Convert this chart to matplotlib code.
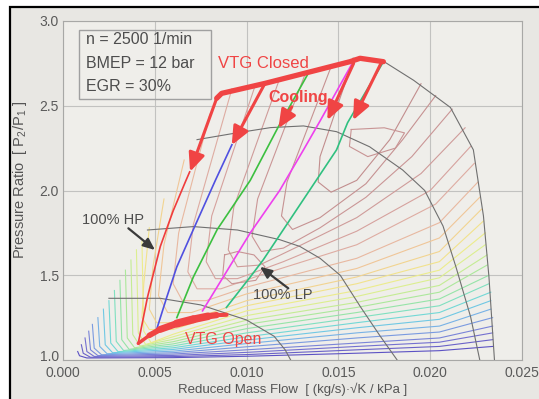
import matplotlib
matplotlib.use('Agg')
import matplotlib.pyplot as plt
import matplotlib.transforms as mtransforms
from matplotlib.patches import Rectangle
from matplotlib.collections import LineCollection
import numpy as np

plt.rcParams['font.family'] = ['Liberation Sans', 'DejaVu Sans']

# ---------------- data ----------------
x_ticks = [0.000, 0.005, 0.010, 0.015, 0.020, 0.025]
x_tick_labels = ['0.000', '0.005', '0.010', '0.015', '0.020', '0.025']
y_ticks = [1.0, 1.5, 2.0, 2.5, 3.0]
y_tick_labels = ['1.0', '1.5', '2.0', '2.5', '3.0']

# efficiency contours (outer -> inner)
contour_x = [
    [0.0008, 0.0009, 0.0013, 0.006, 0.010, 0.016, 0.0205, 0.0234],
    [0.0010, 0.0011, 0.0015, 0.006, 0.010, 0.016, 0.0205, 0.0234],
    [0.0012, 0.0013, 0.0017, 0.006, 0.010, 0.016, 0.0205, 0.0234],
    [0.0014, 0.0015, 0.0019, 0.006, 0.010, 0.016, 0.0205, 0.0234],
    [0.0016, 0.0017, 0.0021, 0.006, 0.010, 0.016, 0.0205, 0.0234],
    [0.0019, 0.0020, 0.0024, 0.006, 0.010, 0.016, 0.0205, 0.0233],
    [0.0022, 0.0023, 0.0027, 0.006, 0.010, 0.016, 0.0205, 0.0233],
    [0.0025, 0.0026, 0.0030, 0.006, 0.010, 0.016, 0.0205, 0.0233],
    [0.0028, 0.0029, 0.0033, 0.006, 0.010, 0.016, 0.0205, 0.0232],
    [0.0031, 0.0032, 0.0036, 0.006, 0.010, 0.016, 0.0205, 0.0232],
    [0.0034, 0.0035, 0.0039, 0.006, 0.010, 0.016, 0.0205, 0.0231],
    [0.0037, 0.0038, 0.0042, 0.006, 0.010, 0.016, 0.0205, 0.0231],
    [0.0040, 0.0041, 0.0045, 0.006, 0.010, 0.016, 0.0205, 0.0230],
    [0.0043, 0.0044, 0.0048, 0.006, 0.010, 0.016, 0.0205, 0.0230],
    [0.0047, 0.0044, 0.0043, 0.0047, 0.006, 0.010, 0.016, 0.0205, 0.0229],
    [0.0055, 0.0049, 0.0047, 0.0051, 0.0065, 0.010, 0.016, 0.0205, 0.0228],
    [0.0066, 0.0055, 0.0052, 0.0057, 0.0070, 0.010, 0.016, 0.0205, 0.0227],
    [0.0080, 0.0063, 0.0060, 0.0065, 0.0078, 0.010, 0.016, 0.0205, 0.0226],
    [0.0092, 0.0071, 0.0068, 0.0073, 0.0086, 0.011, 0.016, 0.0203, 0.0224],
    [0.0105, 0.0081, 0.0078, 0.0083, 0.0095, 0.012, 0.016, 0.0200, 0.0222],
    [0.0118, 0.0093, 0.0090, 0.0095, 0.0107, 0.013, 0.016, 0.0195, 0.0219],
    [0.0132, 0.0106, 0.0103, 0.0108, 0.0120, 0.014, 0.0165, 0.0190, 0.0212],
    [0.0146, 0.0122, 0.0119, 0.0125, 0.0140, 0.0165, 0.0185, 0.0203],
    [0.0158, 0.0140, 0.0139, 0.0146, 0.0160, 0.0178, 0.0195],
    [0.0088, 0.0087, 0.0092, 0.0105, 0.0110, 0.0104, 0.0095, 0.0088],
    [0.0157, 0.0175, 0.0186, 0.0181, 0.0166, 0.0156, 0.0157],
]
contour_y = [
    [1.05, 1.025, 1.012, 1.014, 1.022, 1.040, 1.055, 1.08],
    [1.09, 1.04, 1.016, 1.020, 1.032, 1.060, 1.080, 1.12],
    [1.13, 1.05, 1.021, 1.027, 1.045, 1.080, 1.105, 1.16],
    [1.17, 1.06, 1.026, 1.035, 1.060, 1.100, 1.130, 1.20],
    [1.21, 1.07, 1.031, 1.043, 1.078, 1.130, 1.165, 1.25],
    [1.25, 1.08, 1.037, 1.052, 1.097, 1.160, 1.200, 1.30],
    [1.30, 1.09, 1.043, 1.062, 1.117, 1.190, 1.240, 1.35],
    [1.35, 1.10, 1.049, 1.072, 1.137, 1.220, 1.280, 1.40],
    [1.41, 1.11, 1.056, 1.083, 1.160, 1.250, 1.320, 1.45],
    [1.47, 1.12, 1.063, 1.095, 1.185, 1.280, 1.360, 1.50],
    [1.53, 1.13, 1.072, 1.108, 1.210, 1.310, 1.400, 1.56],
    [1.59, 1.15, 1.082, 1.122, 1.235, 1.340, 1.440, 1.62],
    [1.65, 1.16, 1.092, 1.137, 1.262, 1.375, 1.485, 1.68],
    [1.70, 1.17, 1.102, 1.152, 1.290, 1.410, 1.530, 1.75],
    [1.78, 1.45, 1.25, 1.18, 1.18, 1.32, 1.45, 1.58, 1.82],
    [1.95, 1.55, 1.30, 1.22, 1.22, 1.35, 1.49, 1.64, 1.89],
    [2.18, 1.68, 1.38, 1.28, 1.28, 1.39, 1.54, 1.72, 1.96],
    [2.45, 1.75, 1.45, 1.35, 1.35, 1.43, 1.60, 1.81, 2.05],
    [2.60, 1.80, 1.52, 1.42, 1.42, 1.51, 1.68, 1.92, 2.16],
    [2.63, 1.85, 1.58, 1.48, 1.48, 1.58, 1.76, 2.00, 2.26],
    [2.66, 1.90, 1.65, 1.55, 1.56, 1.68, 1.84, 2.10, 2.37],
    [2.69, 1.95, 1.73, 1.64, 1.66, 1.78, 1.96, 2.20, 2.48],
    [2.73, 2.05, 1.85, 1.77, 1.84, 2.04, 2.30, 2.56],
    [2.77, 2.20, 2.05, 1.99, 2.06, 2.30, 2.63],
    [1.62, 1.50, 1.45, 1.47, 1.55, 1.62, 1.64, 1.62],
    [2.36, 2.37, 2.34, 2.25, 2.20, 2.26, 2.36],
]
contour_colors = [
    '#5c52c4', '#6a62c8', '#7470d0', '#7a84d8', '#7a9ae0', '#78b2e6',
    '#70c8e4', '#72d8d6', '#80e0c0', '#96e4a8', '#ace89c', '#c4ec94',
    '#dcee90', '#ecec8c', '#f2e28c', '#f2d490', '#efc698', '#e8b8a0',
    '#deaca2', '#d6a29e', '#cf9c9a', '#ca9696', '#c69292', '#c28e8e',
    '#c89494', '#c89494',
]

# speed lines
speed_x = [
    [0.0158, 0.01743, 0.0191, 0.0211, 0.02235, 0.0229, 0.0232, 0.0235],
    [0.0073, 0.0093, 0.0113, 0.0131, 0.0149, 0.0167, 0.0185, 0.0197, 0.0207, 0.0214, 0.0222, 0.0227],
    [0.0046, 0.0071, 0.0095, 0.0118, 0.0129, 0.0140, 0.0151, 0.0162, 0.0173, 0.0182],
    [0.0025, 0.0053, 0.0075, 0.0100, 0.0115, 0.0121, 0.0124],
]
speed_y = [
    [2.78, 2.764, 2.65, 2.49, 2.24, 1.85, 1.49, 1.0],
    [2.30, 2.337, 2.371, 2.381, 2.347, 2.258, 2.121, 2.00, 1.79, 1.55, 1.255, 1.0],
    [1.767, 1.787, 1.767, 1.71, 1.67, 1.60, 1.50, 1.314, 1.137, 1.0],
    [1.364, 1.364, 1.325, 1.236, 1.14, 1.06, 1.0],
]

# operating lines
op_x = [
    [0.0041, 0.0046, 0.0053, 0.0060, 0.0067, 0.0069],
    [0.0051, 0.00565, 0.0062, 0.0071, 0.0083, 0.0092],
    [0.0062, 0.0071, 0.0084, 0.0102, 0.0117, 0.0133],
    [0.0076, 0.0102, 0.0118, 0.0131, 0.0140, 0.0157],
    [0.0089, 0.0102, 0.0109, 0.0149, 0.0155, 0.0174],
]
op_y = [
    [1.10, 1.37, 1.67, 1.88, 2.06, 2.11],
    [1.18, 1.37, 1.55, 1.77, 2.06, 2.27],
    [1.25, 1.49, 1.77, 2.06, 2.37, 2.68],
    [1.29, 1.75, 2.00, 2.24, 2.41, 2.74],
    [1.31, 1.49, 1.59, 2.24, 2.40, 2.75],
]
op_colors = ['#f03c3c', '#5050e0', '#3cc040', '#ee40ee', '#30c080']

# VTG closed line
vtgc_x = [0.00837, 0.00864, 0.0110, 0.01563, 0.01618, 0.01745]
vtgc_y = [2.544, 2.573, 2.632, 2.760, 2.780, 2.760]
# VTG open line
vtgo_x = [0.00410, 0.00470, 0.00528, 0.00620, 0.00710, 0.00790, 0.00837, 0.00891]
vtgo_y = [1.098, 1.145, 1.180, 1.215, 1.240, 1.258, 1.265, 1.267]
vtgo_w = [2.5, 4.0, 5.0, 5.8, 5.5, 4.5, 3.0]

# cooling arrows (start -> tip)
arrow_start = [(0.00837, 2.544), (0.0110, 2.632), (0.01246, 2.494), (0.01583, 2.75), (0.01736, 2.76)]
arrow_tip = [(0.00692, 2.111), (0.00919, 2.268), (0.01173, 2.367), (0.0144, 2.415), (0.0158, 2.415)]

RED = '#f04444'
TXT = '#4d4d4d'

# ---------------- figure ----------------
fig = plt.figure(figsize=(5.39, 3.99), dpi=100)
fig.patch.set_facecolor('white')
fig.add_artist(Rectangle((10 / 539, -0.1), 1.2, 1.1 - 7 / 399, transform=fig.transFigure,
                         facecolor='#e8e7e3', edgecolor='black', lw=1.6, zorder=-10))

ax = fig.add_axes([63 / 539, 1 - 360 / 399, 459 / 539, 339 / 399])
ax.set_facecolor('#efeeea')
ax.set_xlim(0, 0.025)
ax.set_ylim(1.0, 3.0)
ax.set_xticks(x_ticks)
ax.set_xticklabels(x_tick_labels)
ax.set_yticks(y_ticks)
ax.set_yticklabels(y_tick_labels)
ax.grid(color='#c2c2c0', lw=0.8, zorder=0)
ax.set_axisbelow(True)
ax.tick_params(length=0, labelsize=10, colors='#5a5a5a')
ax.tick_params(axis='x', pad=4.5)
ax.tick_params(axis='y', pad=3)
for s in ax.spines.values():
    s.set_color('#a8a8a6')
    s.set_linewidth(0.8)
# lift the lowest y tick label a little so it does not sit on "0.000"
lbl = ax.get_yticklabels()[0]
lbl.set_transform(lbl.get_transform() + mtransforms.ScaledTranslation(0, 3 / 72, fig.dpi_scale_trans))

for cx, cy, cc in zip(contour_x, contour_y, contour_colors):
    ax.plot(cx, cy, color=cc, lw=0.8, zorder=1)

for sx, sy in zip(speed_x, speed_y):
    ax.plot(sx, sy, color='#707070', lw=0.8, zorder=2)

for ox, oy, oc in zip(op_x, op_y, op_colors):
    ax.plot(ox, oy, color=oc, lw=1.2, zorder=3)

ax.plot(vtgc_x, vtgc_y, color=RED, lw=3.8, solid_joinstyle='round', solid_capstyle='round', zorder=5)
pts = np.column_stack([vtgo_x, vtgo_y])
segs = [pts[i:i + 2] for i in range(len(pts) - 1)]
ax.add_collection(LineCollection(segs, linewidths=vtgo_w, colors=RED, capstyle='round', zorder=5))

for st, tp in zip(arrow_start, arrow_tip):
    ax.annotate('', xy=tp, xytext=st,
                arrowprops=dict(arrowstyle='-|>,head_length=0.8,head_width=0.35', lw=2.2,
                                color=RED, mutation_scale=14, shrinkA=0, shrinkB=0),
                zorder=6)

# text box
ax.add_patch(Rectangle((0.0349, 0.770), 0.2875, 0.2035, transform=ax.transAxes,
                       facecolor='none', edgecolor='#a0a0a0', lw=1.0, zorder=7))
for yy, t in zip([0.944, 0.876, 0.808], ['n = 2500 1/min', 'BMEP = 12 bar', 'EGR = 30%']):
    ax.text(0.050, yy, t, transform=ax.transAxes, fontsize=11.5, color=TXT, va='center', ha='left', zorder=8)

ax.text(0.00844, 2.752, 'VTG Closed', color=RED, fontsize=12, va='center', ha='left', zorder=8)
ax.text(0.01117, 2.546, 'Cooling', color=RED, fontsize=11.5, fontweight='bold', va='center', ha='left', zorder=8)
ax.text(0.00665, 1.118, 'VTG Open', color=RED, fontsize=11.5, va='center', ha='left', zorder=8)
ax.text(0.00103, 1.826, '100% HP', color=TXT, fontsize=10.5, va='center', ha='left', zorder=8)
ax.text(0.01035, 1.383, '100% LP', color=TXT, fontsize=10.5, va='center', ha='left', zorder=8)
ax.annotate('', xy=(0.00501, 1.649), xytext=(0.00356, 1.777),
            arrowprops=dict(arrowstyle='-|>,head_length=0.7,head_width=0.3', lw=1.6,
                            color='#3a3a3a', mutation_scale=10, shrinkA=0, shrinkB=0), zorder=8)
ax.annotate('', xy=(0.01073, 1.55), xytext=(0.01227, 1.423),
            arrowprops=dict(arrowstyle='-|>,head_length=0.7,head_width=0.3', lw=1.6,
                            color='#3a3a3a', mutation_scale=10, shrinkA=0, shrinkB=0), zorder=8)

ax.set_xlabel('Reduced Mass Flow  [ (kg/s)\u00b7\u221aK / kPa ]', fontsize=9.5, color='#555555', labelpad=2)
ax.set_ylabel(r'Pressure Ratio  [ P$_{\mathregular{2}}$/P$_{\mathregular{1}}$ ]', fontsize=10.5,
              color='#555555')
ax.yaxis.set_label_coords(-0.074, 0.531)

fig.savefig('out.png', dpi=100, facecolor=fig.get_facecolor())
